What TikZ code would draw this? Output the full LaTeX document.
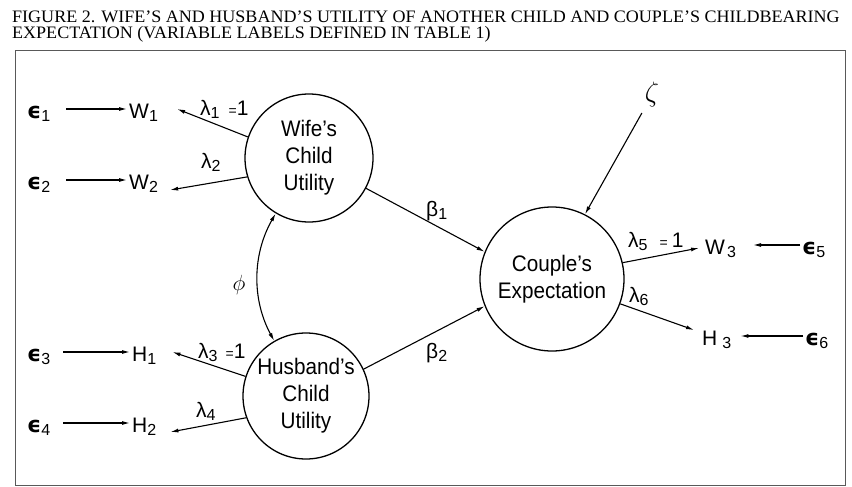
\RequirePackage{fix-cm}
\documentclass[tikz,border=0pt]{standalone}
\usepackage{fontspec}
\setmainfont{Liberation Sans}
\newfontfamily\titlefont{Liberation Serif}[FakeStretch=1.03]
\newfontfamily\dejavu{DejaVu Sans}
\newfontfamily\condsans{Liberation Sans}[FakeStretch=0.92]
\usetikzlibrary{arrows.meta}
\newcommand{\lsub}[1]{\raisebox{-3pt}{\smash{\fontsize{16}{16}\selectfont #1}}}
\newcommand{\eps}{{\dejavu\bfseries\fontsize{22}{22}\selectfont ϵ}}
\tikzset{
  lab/.style={inner sep=2pt, text height=18pt, text depth=0pt, font=\fontsize{21}{24}\selectfont},
  circ/.style={circle, draw, line width=1.3pt, align=center, inner sep=0pt, font=\condsans\fontsize{22.5}{27}\selectfont},
  arr/.style={line width=1.1pt, -{Latex[length=8pt,width=4pt]}},
  arrtwo/.style={line width=1.1pt, {Latex[length=8pt,width=4pt]}-{Latex[length=8pt,width=4pt]}},
  framestyle/.style={line width=1pt, black!65},
  ttl/.style={anchor=base west, inner sep=0pt, text height=11pt, text depth=0pt, font=\titlefont\fontsize{17.5}{17.5}\selectfont}
}
\begin{document}
\begin{tikzpicture}[x=1pt,y=-1pt]
\useasboundingbox (0,0) rectangle (852,487);
% title
\node[ttl] (t1) at (12,22.5) {FIGURE 2. WIFE’S AND HUSBAND’S UTILITY OF ANOTHER CHILD AND COUPLE’S CHILDBEARING};
\node[ttl] (t2) at (12,39) {EXPECTATION (VARIABLE LABELS DEFINED IN TABLE 1)};
% frame
\draw[framestyle] (15,51) rectangle (845,485);
% circles
\node[circ, minimum size=128pt] (wife) at (309,158) {Wife’s\\Child\\Utility};
\node[circ, minimum size=126pt] (husb) at (306,396) {Husband’s\\Child\\Utility};
\node[circ, minimum size=144pt] (couple) at (552,279) {Couple’s\\Expectation};
% left labels
\node[lab, anchor=base west] (e1) at (25,118) {\eps\lsub{1}};
\node[lab, anchor=base west] (e2) at (25,189) {\eps\lsub{2}};
\node[lab, anchor=base west] (e3) at (25,361) {\eps\lsub{3}};
\node[lab, anchor=base west] (e4) at (25,432) {\eps\lsub{4}};
\node[lab, anchor=base west] (w1) at (127,118) {W\lsub{1}};
\node[lab, anchor=base west] (w2) at (127,189) {W\lsub{2}};
\node[lab, anchor=base west] (h1) at (130,361) {H\lsub{1}};
\node[lab, anchor=base west] (h2) at (130,432) {H\lsub{2}};
% right labels
\node[lab, anchor=base west] (w3) at (703,254) {W\hspace{2pt}\lsub{3}};
\node[lab, anchor=base west] (h3) at (700,345) {H\hspace{5pt}\lsub{3}};
\node[lab, anchor=base west] (e5) at (800,254) {\eps\lsub{5}};
\node[lab, anchor=base west] (e6) at (803,345) {\eps\lsub{6}};
% coefficient labels
\node[lab, anchor=base west] (l1) at (198,115) {λ\lsub{1}\hspace{9pt}{\fontsize{14}{14}\selectfont =}1};
\node[lab, anchor=base west] (l2) at (199,168) {λ\lsub{2}};
\node[lab, anchor=base west] (l3) at (196,358) {λ\lsub{3}\hspace{8pt}{\fontsize{14}{14}\selectfont =}1};
\node[lab, anchor=base west] (l4) at (194,417) {λ\lsub{4}};
\node[lab, anchor=base west] (l5) at (626,247) {λ\lsub{5}\hspace{12pt}{\fontsize{14}{14}\selectfont =}\hspace{4pt}1};
\node[lab, anchor=base west] (l6) at (627,302) {λ\lsub{6}};
\node[lab, anchor=base west] (b1) at (424,216) {β\lsub{1}};
\node[lab, anchor=base west] (b2) at (424,358) {β\lsub{2}};
\node[inner sep=1pt, font=\fontsize{28}{28}\selectfont] (zeta) at (652,95) {$\zeta$};
\node[inner sep=1pt, font=\fontsize{22}{22}\selectfont] (phi) at (239,285) {$\phi$};
% connectors
\draw[arr, shorten <=14pt] (e1) -- (w1);
\draw[arr, shorten <=14pt] (e2) -- (w2);
\draw[arr, shorten <=11pt] (e3) -- (h1);
\draw[arr, shorten <=11pt] (e4) -- (h2);
\draw[arr, shorten >=15pt] (e5) -- (w3);
\draw[arr, shorten >=7pt] (e6) -- (h3);
\draw[arr] (wife.161) -- ([xshift=17pt]w1.east);
\draw[arr] (wife.197) -- ([shift={(10pt,-10pt)}]w2.east);
\draw[arr] (husb.162) -- ([xshift=14pt]h1.east);
\draw[arr] (husb.200) -- ([shift={(12pt,-9pt)}]h2.east);
\draw[arr] (wife.-28) -- (couple.158);
\draw[arr] (husb.25) -- (couple.202);
\draw[arr, shorten <=5pt] (zeta) -- (couple.63);
\draw[arr] (couple.13) -- ([shift={(-4pt,-3pt)}]w3.west);
\draw[arr] (couple.-20) -- ([shift={(-6pt,6pt)}]h3.west);
\draw[arrtwo] (wife.239) .. controls (252,255) and (252,300) .. (husb.120);
\end{tikzpicture}
\end{document}
